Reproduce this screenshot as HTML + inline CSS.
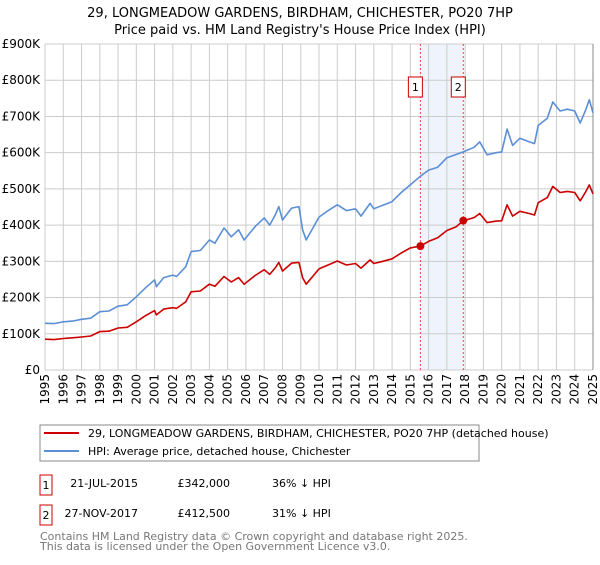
<!DOCTYPE html>
<html><head><meta charset="utf-8"><style>
body{margin:0;background:#fff;font-family:"Liberation Sans","DejaVu Sans",sans-serif;}
svg text{font-family:"DejaVu Sans","Liberation Sans",sans-serif;}
</style></head><body>
<svg id="c" width="600" height="560" xmlns="http://www.w3.org/2000/svg">
<text x="300" y="17" text-anchor="middle" font-size="13" fill="#000">29, LONGMEADOW GARDENS, BIRDHAM, CHICHESTER, PO20 7HP</text>
<text x="300" y="34" text-anchor="middle" font-size="13" fill="#000">Price paid vs. HM Land Registry's House Price Index (HPI)</text>
<g id="plot"></g>
<rect x="40" y="425" width="439" height="36" fill="#fff" stroke="#888"/>
<line x1="44" y1="433" x2="79" y2="433" stroke="#cc0000" stroke-width="2"/>
<text x="88" y="437" font-size="11">29, LONGMEADOW GARDENS, BIRDHAM, CHICHESTER, PO20 7HP (detached house)</text>
<line x1="44" y1="451" x2="79" y2="451" stroke="#5b8fd6" stroke-width="2"/>
<text x="88" y="455" font-size="11">HPI: Average price, detached house, Chichester</text>
<rect x="40" y="475" width="12" height="20" fill="#fff" stroke="#cc0000"/>
<text x="46" y="489" font-size="11" text-anchor="middle">1</text>
<text x="138" y="487" font-size="11" text-anchor="end">21-JUL-2015</text>
<text x="230" y="487" font-size="11" text-anchor="end">£342,000</text>
<text x="272" y="487" font-size="11">36% ↓ HPI</text>
<rect x="40" y="505" width="12" height="20" fill="#fff" stroke="#cc0000"/>
<text x="46" y="519" font-size="11" text-anchor="middle">2</text>
<text x="138" y="517" font-size="11" text-anchor="end">27-NOV-2017</text>
<text x="230" y="517" font-size="11" text-anchor="end">£412,500</text>
<text x="272" y="517" font-size="11">31% ↓ HPI</text>
<text x="40" y="540" font-size="11" fill="#777">Contains HM Land Registry data © Crown copyright and database right 2025.</text>
<text x="40" y="550" font-size="11" fill="#777">This data is licensed under the Open Government Licence v3.0.</text>
</svg>
<script>
const times=[1995,1995.5,1996,1996.5,1997,1997.5,1998,1998.5,1999,1999.5,2000,2000.5,2001,2001.1,2001.5,2002,2002.2,2002.7,2003,2003.5,2004,2004.3,2004.8,2005.2,2005.6,2005.9,2006.5,2007,2007.3,2007.6,2007.8,2008,2008.5,2008.9,2009.1,2009.3,2010,2010.5,2011,2011.5,2012,2012.3,2012.8,2013,2013.5,2014,2014.5,2015,2015.55,2016,2016.5,2017,2017.5,2017.9,2018.5,2018.8,2019.2,2019.7,2020,2020.3,2020.6,2021,2021.5,2021.8,2022,2022.5,2022.8,2023.2,2023.6,2024,2024.3,2024.6,2024.8,2025];
const hpiValues=[129,128,133,135,140,143,161,163,176,180,202,227,249,230,255,262,258,285,327,330,359,350,392,368,387,359,396,420,400,428,451,414,447,451,387,359,422,440,456,440,445,425,460,445,455,465,490,511,535,552,560,586,595,602,615,630,594,600,602,665,620,640,630,625,675,695,740,715,720,715,682,718,746,710];
const priceValues=[85,84,87,89,91,94,106,107,116,118,133,150,164,152,168,172,170,188,216,218,237,231,258,243,255,237,261,277,264,282,297,273,295,297,255,237,279,290,301,290,294,281,304,294,300,307,323,337,342,355,365,385,395,412,421,432,407,411,412,456,425,438,432,428,462,476,507,490,493,490,467,492,511,486];
const saleTimes=[2015.55,2017.9];
const saleValues=[342,412.5];
const saleLabels=['1','2'];
const yTicks=[0,100,200,300,400,500,600,700,800,900];
const yTickLabels=['£0','£100K','£200K','£300K','£400K','£500K','£600K','£700K','£800K','£900K'];
const xYears=[1995,1996,1997,1998,1999,2000,2001,2002,2003,2004,2005,2006,2007,2008,2009,2010,2011,2012,2013,2014,2015,2016,2017,2018,2019,2020,2021,2022,2023,2024,2025];

const NS='http://www.w3.org/2000/svg';
const g=document.getElementById('plot');
const X0=45,X1=593,Y0=370,Y1=44;
function xs(t){return X0+(t-1995)/30*(X1-X0);}
function ys(v){return Y0-v/900*(Y0-Y1);}
function mk(tag,attrs,parent){const e=document.createElementNS(NS,tag);for(const k in attrs)e.setAttribute(k,attrs[k]);(parent||g).appendChild(e);return e;}

let shade=mk('rect',{x:xs(saleTimes[0]),y:Y1,width:xs(saleTimes[1])-xs(saleTimes[0]),height:Y0-Y1,fill:'#eef3fc'});



yTicks.forEach((v,i)=>{
  const l=mk('line',{x1:X0,x2:X1,y1:ys(v),y2:ys(v),stroke:'#cccccc','stroke-width':1});
  
  
  const t=mk('text',{x:40,y:ys(v)+4,'text-anchor':'end','font-size':12,fill:'#000'});
  t.textContent=yTickLabels[i];
  
  
});
xYears.forEach(yr=>{
  const l=mk('line',{x1:xs(yr),x2:xs(yr),y1:Y1,y2:Y0,stroke:'#cccccc','stroke-width':1});
  
  
  const t=mk('text',{x:0,y:0,'text-anchor':'end','font-size':12,fill:'#000',transform:'translate('+(xs(yr)+4)+',374) rotate(-90)'});
  t.textContent=String(yr);
  
  
});
const edge=mk('line',{x1:X1,x2:X1,y1:Y1,y2:Y0,stroke:'#888','stroke-width':1});



saleTimes.forEach((t,i)=>{
  const l=mk('line',{x1:xs(t),x2:xs(t),y1:Y1,y2:Y0,stroke:'#ee4444','stroke-width':1,'stroke-dasharray':'2,2'});
  
  
  const r=mk('rect',{x:xs(t)-12,y:77,width:14,height:20,fill:'#fff',stroke:'#cc0000'});
  
  
  const tx=mk('text',{x:xs(t)-5,y:91,'text-anchor':'middle','font-size':11});
  tx.textContent=saleLabels[i];
  
  
});

function path(vals,color,name){
  const d=times.map((t,i)=>(i?'L':'M')+xs(t).toFixed(1)+','+ys(vals[i]).toFixed(1)).join('');
  const p=mk('path',{d:d,fill:'none',stroke:color,'stroke-width':1.6,'stroke-linejoin':'round'});
  
  
}
path(hpiValues,'#5b8fd6','hpi-line');
path(priceValues,'#cc0000','price-line');
saleTimes.forEach((t,i)=>{
  const c=mk('circle',{cx:xs(t),cy:ys(saleValues[i]),r:4,fill:'#cc0000'});
  
  
});
</script>
</body></html>
